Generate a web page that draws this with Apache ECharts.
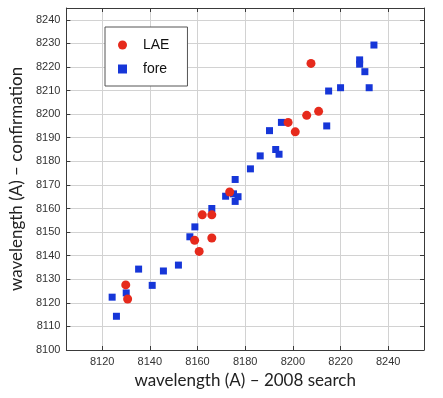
<!DOCTYPE html>
<html>
<head>
<meta charset="utf-8">
<script src="https://cdn.jsdelivr.net/npm/echarts@6/dist/echarts.min.js"></script>
<style>
  html, body { margin: 0; padding: 0; background: #fff; }
  #chart { width: 443px; height: 398px; }
</style>
</head>
<body>
<div id="chart"></div>
<script>
// values
var xTicks = [8120, 8140, 8160, 8180, 8200, 8220, 8240];
var laeX = [8207.6, 8210.8, 8205.8, 8198.0, 8201.0, 8173.5, 8162.0, 8166.0, 8158.8, 8166.0, 8160.7, 8129.9, 8130.7];
var laeY = [8221.5, 8201.2, 8199.5, 8196.5, 8192.5, 8167.0, 8157.3, 8157.3, 8146.5, 8147.5, 8141.8, 8127.6, 8121.6];
var foreX = [8234.0, 8228.0, 8228.0, 8230.2, 8215.0, 8220.0, 8232.0, 8195.2, 8214.2, 8190.2,
             8192.8, 8194.2, 8186.3, 8182.2, 8175.8, 8171.8, 8175.1, 8177.0, 8175.8, 8166.0,
             8158.9, 8156.8, 8152.0, 8135.3, 8145.7, 8141.0, 8130.1, 8124.2, 8126.0];
var foreY = [8229.3, 8223.0, 8221.2, 8218.0, 8209.8, 8211.2, 8211.2, 8196.5, 8195.0, 8193.0,
             8185.0, 8183.0, 8182.3, 8176.8, 8172.3, 8165.2, 8166.2, 8165.0, 8163.0, 8160.0,
             8152.2, 8148.0, 8136.0, 8134.3, 8133.5, 8127.4, 8124.2, 8122.4, 8114.3];

function pairs(xs, ys) {
  return xs.map(function (x, i) { return [x, ys[i]]; });
}
function plain(v) { return String(v); }

var chart = echarts.init(document.getElementById('chart'));
var gridColor = '#d2d2d2';
var boxColor = '#3a3a3a';
var labelFont = { color: '#333', fontSize: 11, fontFamily: 'Liberation Sans, Arial, sans-serif', formatter: plain };

chart.setOption({
  animation: false,
  grid: { left: 62, right: 19, top: 8, bottom: 48 },
  legend: {
    orient: 'vertical',
    left: 105, top: 27,
    backgroundColor: '#fff',
    borderColor: '#555', borderWidth: 1,
    padding: [11, 18, 10, 13],
    itemGap: 10,
    itemWidth: 9, itemHeight: 9,
    textStyle: { fontSize: 14, color: '#111', fontFamily: 'Liberation Sans, Arial, sans-serif', lineHeight: 12, padding: [0, 0, 0, 11] },
    data: [
      { name: 'LAE', icon: 'circle' },
      { name: 'fore', icon: 'rect' }
    ]
  },
  xAxis: [{
    type: 'value', min: 8105, max: 8255,
    position: 'bottom',
    name: 'wavelength (A) \u2013 2008 search',
    nameLocation: 'middle', nameGap: 22,
    nameTextStyle: { fontSize: 17, color: '#222', fontFamily: 'Lato, sans-serif' },
    axisLine: { lineStyle: { color: boxColor, width: 1 } },
    axisTick: { inside: true, length: 4, customValues: xTicks, lineStyle: { color: boxColor } },
    axisLabel: Object.assign({ margin: 6, customValues: xTicks }, labelFont),
    splitLine: { show: true, lineStyle: { color: gridColor, width: 1 } }
  }, {
    type: 'value', min: 8105, max: 8255,
    position: 'top',
    axisLine: { lineStyle: { color: boxColor, width: 1 } },
    axisTick: { inside: true, length: 4, customValues: xTicks, lineStyle: { color: boxColor } },
    axisLabel: { show: false },
    splitLine: { show: false }
  }],
  yAxis: [{
    type: 'value', min: 8100, max: 8245, interval: 10,
    position: 'left',
    name: 'wavelength (A) \u2013 confirmation',
    nameLocation: 'middle', nameGap: 38,
    nameTextStyle: { fontSize: 17, color: '#222', fontFamily: 'Lato, sans-serif' },
    axisLine: { show: true, lineStyle: { color: boxColor, width: 1 } },
    axisTick: { show: true, inside: true, length: 4, lineStyle: { color: boxColor } },
    axisLabel: Object.assign({ margin: 6, showMaxLabel: false }, labelFont),
    splitLine: { show: true, lineStyle: { color: gridColor, width: 1 } }
  }, {
    type: 'value', min: 8100, max: 8245, interval: 10,
    position: 'right',
    axisLine: { show: true, lineStyle: { color: boxColor, width: 1 } },
    axisTick: { show: true, inside: true, length: 4, lineStyle: { color: boxColor } },
    axisLabel: { show: false },
    splitLine: { show: false }
  }],
  series: [{
    name: 'fore', type: 'scatter',
    symbol: 'rect', symbolSize: 7,
    itemStyle: { color: '#1636d8', opacity: 1 },
    data: pairs(foreX, foreY)
  }, {
    name: 'LAE', type: 'scatter',
    symbol: 'circle', symbolSize: 9,
    itemStyle: { color: '#e62a1c', opacity: 1 },
    data: pairs(laeX, laeY)
  }]
});
</script>
</body>
</html>
